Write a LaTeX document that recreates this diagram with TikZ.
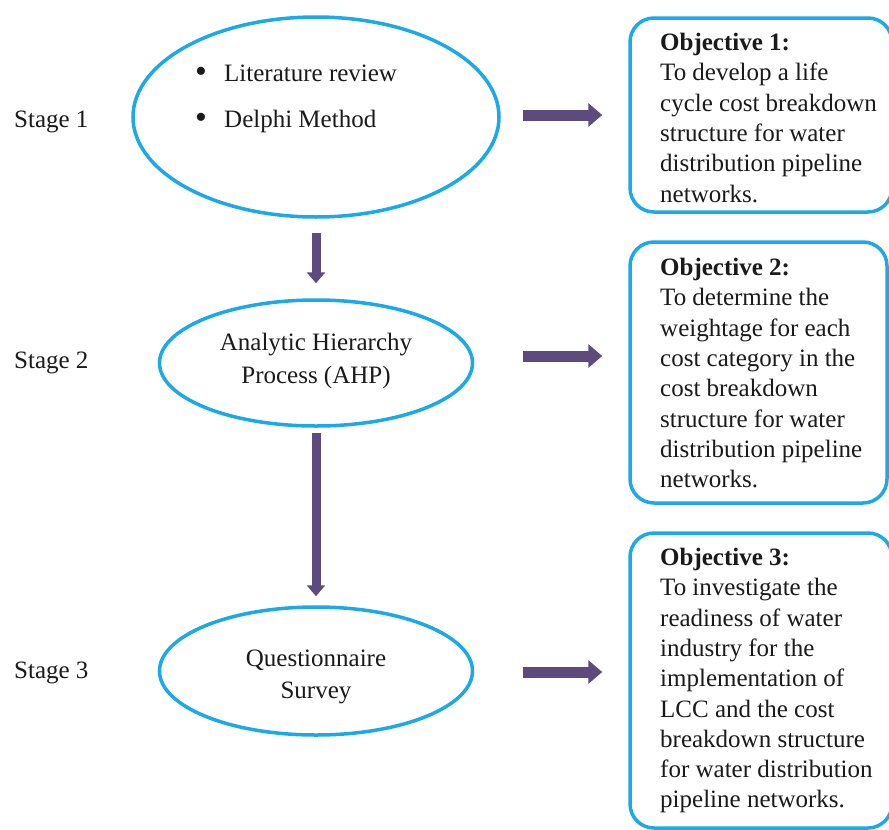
\documentclass[tikz,border=0pt]{standalone}
\usepackage{fontspec}
\setmainfont{LiberationSerif}[Extension=.ttf,UprightFont=*-Regular,BoldFont=*-Bold,ItalicFont=*-Italic,BoldItalicFont=*-BoldItalic]
\usetikzlibrary{arrows.meta,shapes.geometric}
\definecolor{ellblue}{HTML}{1CA9E8}
\definecolor{arrpurple}{HTML}{5D4B7D}
\definecolor{txt}{HTML}{1A1A1A}
\newcommand{\bul}{\makebox[29pt][l]{\raisebox{-1pt}{\scalebox{1.35}{\textbullet}}}}
\begin{document}
\begin{tikzpicture}[x=1pt,y=-1pt,
  every node/.style={text=txt,font=\fontsize{25}{30.3}\selectfont},
  ell/.style={draw=ellblue,line width=3.5pt,ellipse,inner sep=0pt},
  elltext/.style={align=center,inner sep=0pt},
  objbox/.style={draw=ellblue,line width=3.5pt,rounded corners=24pt,inner sep=0pt},
  objtext/.style={anchor=north west,align=left,inner sep=0pt},
  stagelbl/.style={anchor=base west,inner sep=0pt},
  rarrow/.style={draw=arrpurple,line width=11pt,-{Triangle[length=14pt,width=23pt]},shorten >=26pt},
  darrow/.style={draw=arrpurple,line width=9pt,-{Triangle[length=11pt,width=18pt]}}
]
\useasboundingbox (0,0) rectangle (889,830);
\fill[white] (0,0) rectangle (889,830);

% stages
\node[stagelbl] (s1) at (14,127) {Stage 1};
\node[stagelbl] (s2) at (14,368) {Stage 2};
\node[stagelbl] (s3) at (14,678) {Stage 3};

% ellipses
\node[ell,minimum width=366pt,minimum height=200pt] (e1) at (316,117) {};
\node[anchor=north west,align=left,inner sep=0pt,font=\fontsize{25}{46}\selectfont] (e1t) at (195,65)
  {\bul Literature review\\\bul Delphi Method};
\node[ell,minimum width=313pt,minimum height=126pt] (e2) at (316,363) {};
\node[elltext,font=\fontsize{25}{33}\selectfont] (e2t) at (316,361) {Analytic Hierarchy\\Process (AHP)};
\node[ell,minimum width=313pt,minimum height=128pt] (e3) at (316,671) {};
\node[elltext,font=\fontsize{25}{32}\selectfont] (e3t) at (316,676.5) {Questionnaire\\Survey};

% objective boxes
\node[objbox,minimum width=262pt,minimum height=194pt] (b1) at (761,115) {};
\node[objbox,minimum width=257pt,minimum height=261pt] (b2) at (758.5,372.5) {};
\node[objbox,minimum width=262pt,minimum height=295pt] (b3) at (761,680.5) {};

\node[objtext] (t1) at (660,33) {\textbf{Objective 1:}\\To develop a life\\cycle cost breakdown\\structure for water\\distribution pipeline\\networks.};
\node[objtext] (t2) at (660,258) {\textbf{Objective 2:}\\To determine the\\weightage for each\\cost category in the\\cost breakdown\\structure for water\\distribution pipeline\\networks.};
\node[objtext] (t3) at (660,548) {\textbf{Objective 3:}\\To investigate the\\readiness of water\\industry for the\\implementation of\\LCC and the cost\\breakdown structure\\for water distribution\\pipeline networks.};

% right arrows
\draw[rarrow,shorten <=22pt] (e1.east |- 0,115) -- (b1.west);
\draw[rarrow,shorten <=49pt] (e2.east |- 0,356) -- (b2.west |- 0,356);
\draw[rarrow,shorten <=49pt] (e3.east |- 0,672) -- (b3.west |- 0,672);

% down arrows
\draw[darrow,shorten <=14pt,shorten >=15pt] (e1.south) -- (e2.north);
\draw[darrow,shorten <=5pt,shorten >=9pt] (e2.south) -- (e3.north);
\end{tikzpicture}
\end{document}
